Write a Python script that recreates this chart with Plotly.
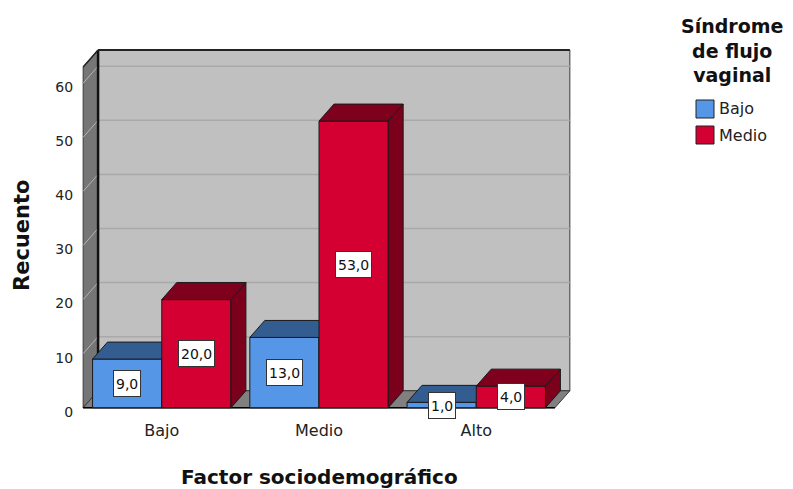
import plotly.graph_objects as go

# ---- data -------------------------------------------------------------
categories = ["Bajo", "Medio", "Alto"]
series_names = ["Bajo", "Medio"]
bajo_counts = [9, 13, 1]
medio_counts = [20, 53, 4]
y_tick_values = [0, 10, 20, 30, 40, 50, 60]
x_title = "Factor sociodemográfico"
y_title = "Recuento"
legend_title = "Síndrome<br>de flujo<br>vaginal"

# ---- styling ----------------------------------------------------------
FONT = "DejaVu Sans"
FRONT = {"Bajo": "#5597e6", "Medio": "#d50032"}
TOP = {"Bajo": "#335c91", "Medio": "#7f001c"}
SIDE = {"Bajo": "#2b4f80", "Medio": "#7a001b"}
EDGE = "#1a1a1a"
WALL_BACK = "#c0c0c0"
WALL_LEFT = "#767676"
FLOOR = "#808080"
GRID_BACK = "#a9a9a9"
GRID_LEFT = "#b4b4b4"

# 3-D box geometry in data units
BAR_W = 0.44          # width of one bar
DX, DY = 0.095, 3.14  # depth offset (x units, y units)
X0, X1 = -0.5, 2.5    # front floor extent
YMAX = 63             # wall height (front plane)

# canvas / plot area
W, H = 793, 489
XR = [-0.52, X1 + DX + 0.02]
YR = [-0.6, YMAX + DY + 0.55]
L_M, B_M = 80, 78
PLOT_W = 493
PLOT_H = 364
R_M = W - L_M - PLOT_W
T_M = H - B_M - PLOT_H


def px_x(px):
    return (px - L_M) / PLOT_W


def px_y(py):
    return (H - B_M - py) / PLOT_H


fig = go.Figure()


def poly(xs, ys, fill, line_color=EDGE, width=1):
    fig.add_trace(go.Scatter(
        x=list(xs) + [xs[0]], y=list(ys) + [ys[0]],
        mode="lines", fill="toself", fillcolor=fill,
        line=dict(color=line_color, width=width),
        hoverinfo="skip", showlegend=False))


def seg(xs, ys, color, width=1):
    fig.add_trace(go.Scatter(
        x=xs, y=ys, mode="lines", line=dict(color=color, width=width),
        hoverinfo="skip", showlegend=False))


# back wall
poly([X0 + DX, X1 + DX, X1 + DX, X0 + DX],
     [DY, DY, YMAX + DY, YMAX + DY], WALL_BACK, line_color="#3a3a3a")
for v in y_tick_values[1:]:
    seg([X0 + DX, X1 + DX], [v + DY, v + DY], GRID_BACK, 1.5)

# left wall
poly([X0, X0 + DX, X0 + DX, X0],
     [0, DY, YMAX + DY, YMAX], WALL_LEFT, line_color="#3a3a3a")
for v in y_tick_values[1:]:
    seg([X0, X0 + DX], [v, v + DY], GRID_LEFT, 1)

# floor
poly([X0, X1, X1 + DX, X0 + DX], [0, 0, DY, DY], FLOOR, line_color="#3a3a3a")

# heavy edges of the wall box
seg([X0 + DX, X0 + DX], [DY, YMAX + DY], "#111111", 2.5)
seg([X0 + DX, X1 + DX], [YMAX + DY, YMAX + DY], "#222222", 2)
seg([X0, X0 + DX], [YMAX, YMAX + DY], "#222222", 1.5)
seg([X0, X1], [0, 0], "#000000", 1.5)


def bar3d(x_left, value, name):
    xr = x_left + BAR_W
    # front face
    poly([x_left, xr, xr, x_left], [0, 0, value, value], FRONT[name])
    # top face
    poly([x_left, xr, xr + DX, x_left + DX],
         [value, value, value + DY, value + DY], TOP[name])
    # right side face
    poly([xr, xr + DX, xr + DX, xr], [0, DY, value + DY, value], SIDE[name])


annotations = []
for i, cat in enumerate(categories):
    for name, vals, offset in (("Bajo", bajo_counts, -BAR_W), ("Medio", medio_counts, 0.0)):
        v = vals[i]
        x_left = i + offset
        bar3d(x_left, v, name)
        annotations.append(dict(
            x=x_left + BAR_W / 2, y=v / 2, xref="x", yref="y",
            xanchor="center", yanchor="middle",
            text=f"{v:.1f}".replace(".", ","), showarrow=False,
            font=dict(family=FONT, size=14, color="#111111"), height=21,
            bgcolor="white", bordercolor="#333333", borderwidth=1, borderpad=2))

# axis titles
annotations.append(dict(x=px_x(319), y=px_y(477), xref="paper", yref="paper",
                        xanchor="center", yanchor="middle",
                        text=f"<b>{x_title}</b>", showarrow=False,
                        font=dict(family=FONT, size=20, color="#111111")))
annotations.append(dict(x=px_x(22), y=px_y(236), xref="paper", yref="paper",
                        xanchor="center", yanchor="middle",
                        text=f"<b>{y_title}</b>", showarrow=False, textangle=-90,
                        font=dict(family=FONT, size=21, color="#111111")))

# legend block
annotations.append(dict(x=px_x(732), y=px_y(51), xref="paper", yref="paper",
                        xanchor="center", yanchor="middle",
                        text=f"<b>{legend_title}</b>", showarrow=False, align="center",
                        font=dict(family=FONT, size=19, color="#111111")))
shapes = []
for k, name in enumerate(series_names):
    cy = 109 + 26 * k
    shapes.append(dict(type="rect", xref="paper", yref="paper",
                       x0=px_x(696), x1=px_x(714), y0=px_y(cy + 9), y1=px_y(cy - 9),
                       fillcolor=FRONT[name], line=dict(color="#222222", width=1)))
    annotations.append(dict(x=px_x(717), y=px_y(cy), xref="paper", yref="paper",
                            xanchor="left", yanchor="middle", text=name, showarrow=False,
                            font=dict(family=FONT, size=16, color="#222222")))

fig.update_layout(
    width=W, height=H, autosize=False,
    margin=dict(l=L_M, r=R_M, t=T_M, b=B_M, pad=0),
    paper_bgcolor="white", plot_bgcolor="white",
    showlegend=False,
    annotations=annotations, shapes=shapes,
    xaxis=dict(range=XR, tickvals=list(range(len(categories))), ticktext=categories,
               showgrid=False, zeroline=False, showline=False,
               ticks="outside", ticklen=5, tickcolor="rgba(0,0,0,0)",
               tickfont=dict(family=FONT, size=16, color="#222222"), fixedrange=True),
    yaxis=dict(range=YR, tickvals=y_tick_values,
               showgrid=False, zeroline=False, showline=False,
               ticks="outside", ticklen=3, tickcolor="rgba(0,0,0,0)",
               ticklabelshift=4,
               tickfont=dict(family=FONT, size=14, color="#222222"), fixedrange=True),
)

fig.write_html("out.html")
